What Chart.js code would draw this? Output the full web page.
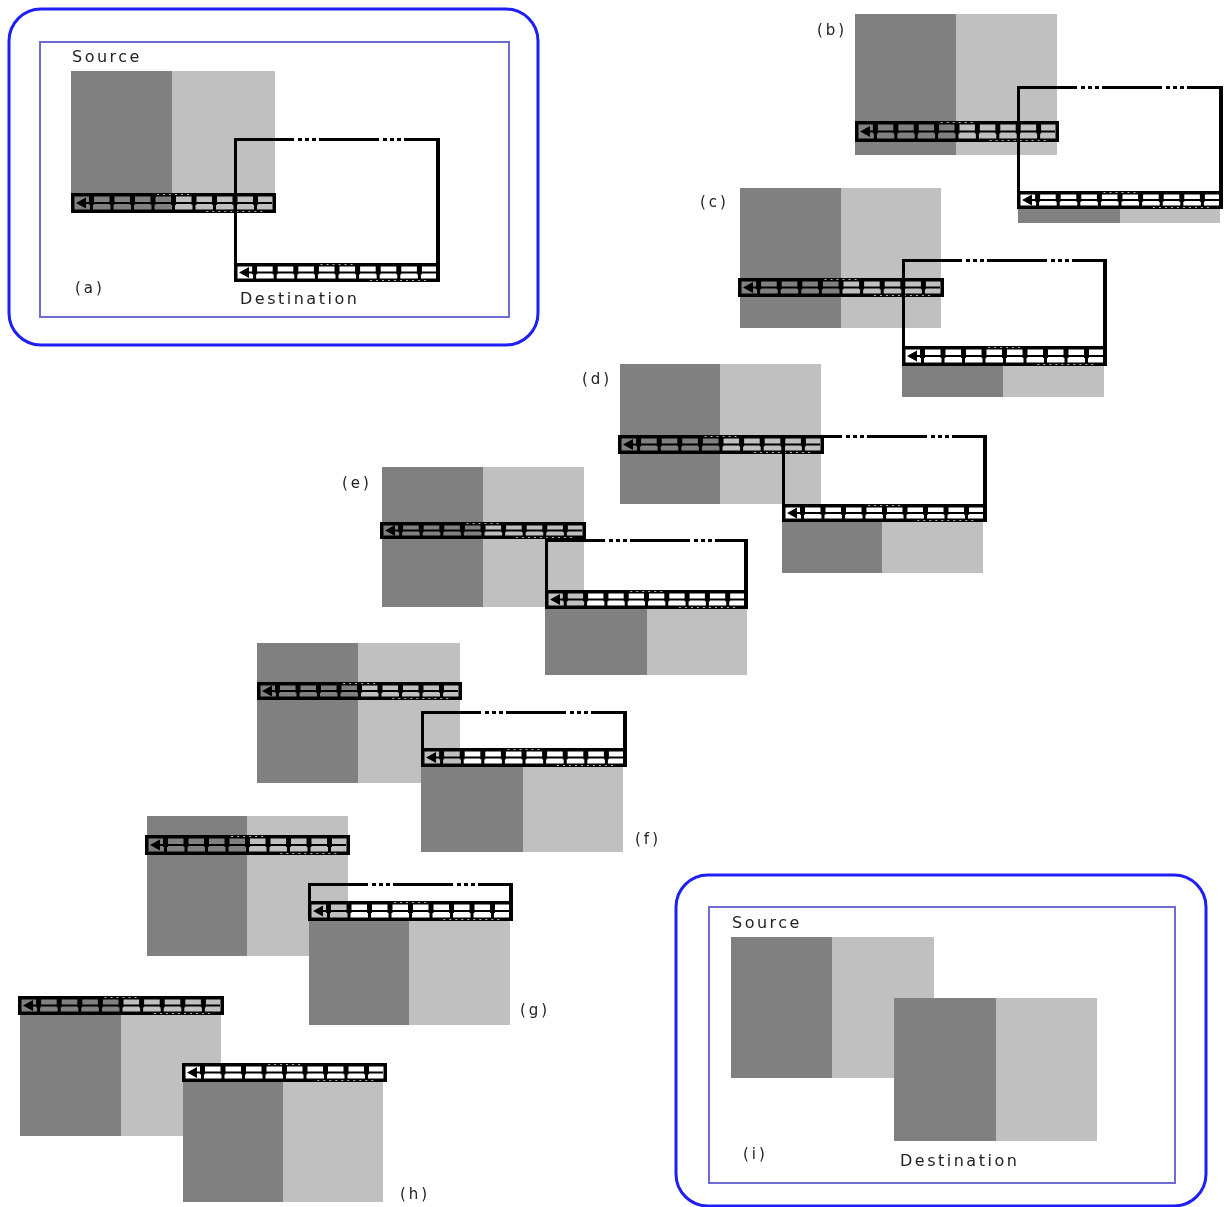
<!DOCTYPE html>
<html>
<head>
<meta charset="utf-8">
<script src="https://cdn.jsdelivr.net/npm/chart.js@4.4.1/dist/chart.umd.min.js"></script>
<style>
  html, body { margin: 0; padding: 0; background: #fff; }
  canvas { display: block; }
</style>
</head>
<body>
<canvas id="copyDiagram" width="1225" height="1207"></canvas>
<script>
// panels (a) .. (i), all values in diagram units (x 0..1225, y 0..1207 downwards)
const panelLabels = ["(a)", "(b)", "(c)", "(d)", "(e)", "(f)", "(g)", "(h)", "(i)"];
const labelX = [75, 817, 700, 582, 342, 635, 520, 400, 743];
const labelY = [289, 31, 203, 380, 484, 840, 1011, 1195, 1155];

// source block (dark half | light half)
const srcLeft   = [71, 855, 740, 620, 382, 257, 147, 20, 731];
const srcSplit  = [172, 956, 841, 720, 483, 358, 247, 121, 832];
const srcRight  = [275, 1057, 941, 821, 584, 460, 348, 221, 934];
const srcTop    = [71, 14, 188, 364, 467, 643, 816, 997, 937];
const srcBottom = [213, 155, 328, 504, 607, 783, 956, 1136, 1078];

// scan line strip over the source
const srcBarLeft   = [71, 855, 738, 618, 380, 257, 145, 18, null];
const srcBarRight  = [276, 1059, 944, 824, 586, 462, 350, 224, null];
const srcBarTop    = [193, 121, 278, 435, 522, 682, 835, 996, null];
const srcBarBottom = [213, 142, 297, 454, 539, 700, 855, 1015, null];

// destination window with its strip at the bottom
const winLeft      = [234, 1017, 902, 782, 545, 421, 308, 182, null];
const winRight     = [440, 1223, 1107, 987, 748, 627, 513, 387, null];
const winTop       = [138, 86, 259, 435, 539, 711, 883, 1063, null];
const winBarTop    = [263, 191, 346, 504, 590, 748, 901, 1063, null];
const winBarBottom = [282, 209, 366, 522, 609, 767, 921, 1082, null];

// copied part of the destination
const dstLeft   = [null, 1018, 902, 782, 545, 421, 309, 183, 894];
const dstSplit  = [null, 1120, 1003, 882, 647, 523, 409, 283, 996];
const dstRight  = [null, 1220, 1104, 983, 747, 623, 510, 383, 1097];
const dstTop    = [null, 209, 366, 522, 609, 767, 921, 1082, 998];
const dstBottom = [null, 223, 397, 573, 675, 852, 1025, 1202, 1141];

// boxed panels (a) and (i)
const frameLeft   = [9, 676];
const frameRight  = [538, 1206];
const frameTop    = [9, 875];
const frameBottom = [345, 1206];
const innerLeft   = [40, 709];
const innerRight  = [509, 1175];
const innerTop    = [42, 907];
const innerBottom = [317, 1183];
const captionText = ["Source", "Destination", "Source", "Destination"];
const captionX    = [72, 240, 732, 900];
const captionY    = [58, 300, 924, 1162];

const DARK = "#808080";
const LIGHT = "#c0c0c0";

function drawStrip(ctx, L, R, T, B, opaque) {
    let w = (R - L) / 10;
    let mid = (T + B) / 2;
    ctx.save();
    if (opaque) {
        ctx.fillStyle = "#fff";
        ctx.fillRect(L, T, R - L, B - T);
    }
    ctx.strokeStyle = "#000";
    ctx.fillStyle = "#000";
    // middle line
    ctx.lineWidth = 2;
    ctx.beginPath();
    ctx.moveTo(L + w * 0.7, mid);
    ctx.lineTo(R - 4, mid);
    ctx.stroke();
    // cell dividers
    for (let i = 1; i < 10; i++) {
        let x = L + i * w;
        ctx.fillRect(x - 2.5, T, 5, (B - T) * 0.6);
        ctx.fillRect(x - 1.5, T, 3, B - T);
    }
    // frame
    ctx.lineWidth = 3.5;
    ctx.strokeRect(L + 1.75, T + 1.75, R - L - 3.5, B - T - 3.5);
    // dotted breaks along the frame
    ctx.strokeStyle = "rgba(255,255,255,0.7)";
    ctx.lineWidth = 1;
    ctx.setLineDash([2, 4]);
    ctx.beginPath();
    ctx.moveTo(L + w * 4.2, T + 1.5);
    ctx.lineTo(L + w * 5.8, T + 1.5);
    ctx.moveTo(L + w * 6.6, B - 1.5);
    ctx.lineTo(L + w * 9.4, B - 1.5);
    ctx.stroke();
    ctx.setLineDash([]);
    // left arrow
    ctx.fillStyle = "#000";
    ctx.beginPath();
    ctx.moveTo(L + 5, mid);
    ctx.lineTo(L + 15, mid - 5.5);
    ctx.lineTo(L + 15, mid + 5.5);
    ctx.closePath();
    ctx.fill();
    ctx.restore();
}

const diagramPlugin = {
    id: "copyDiagram",
    afterDatasetsDraw(chart) {
        let ctx = chart.ctx;
        let xs = chart.scales.x;
        let ys = chart.scales.y;
        let px = v => xs.getPixelForValue(v);
        let py = v => ys.getPixelForValue(v);

        ctx.save();
        // frames
        for (let i = 0; i < frameLeft.length; i++) {
            ctx.strokeStyle = "#1e1ef5";
            ctx.lineWidth = 3;
            ctx.beginPath();
            ctx.roundRect(px(frameLeft[i]), py(frameTop[i]), px(frameRight[i]) - px(frameLeft[i]), py(frameBottom[i]) - py(frameTop[i]), 32);
            ctx.stroke();
            ctx.strokeStyle = "#6c6cd2";
            ctx.lineWidth = 2;
            ctx.strokeRect(px(innerLeft[i]), py(innerTop[i]), px(innerRight[i]) - px(innerLeft[i]), py(innerBottom[i]) - py(innerTop[i]));
        }

        for (let p = 0; p < panelLabels.length; p++) {
            // source block
            ctx.fillStyle = DARK;
            ctx.fillRect(px(srcLeft[p]), py(srcTop[p]), px(srcSplit[p]) - px(srcLeft[p]), py(srcBottom[p]) - py(srcTop[p]));
            ctx.fillStyle = LIGHT;
            ctx.fillRect(px(srcSplit[p]), py(srcTop[p]), px(srcRight[p]) - px(srcSplit[p]), py(srcBottom[p]) - py(srcTop[p]));

            // destination block
            if (dstLeft[p] !== null) {
                ctx.fillStyle = DARK;
                ctx.fillRect(px(dstLeft[p]), py(dstTop[p]), px(dstSplit[p]) - px(dstLeft[p]), py(dstBottom[p]) - py(dstTop[p]));
                ctx.fillStyle = LIGHT;
                ctx.fillRect(px(dstSplit[p]), py(dstTop[p]), px(dstRight[p]) - px(dstSplit[p]), py(dstBottom[p]) - py(dstTop[p]));
            }

            // source strip
            if (srcBarLeft[p] !== null) {
                drawStrip(ctx, px(srcBarLeft[p]), px(srcBarRight[p]), py(srcBarTop[p]), py(srcBarBottom[p]), false);
            }

            // destination window
            if (winLeft[p] !== null) {
                let L = px(winLeft[p]), R = px(winRight[p]);
                let T = py(winTop[p]), BT = py(winBarTop[p]), B = py(winBarBottom[p]);
                if (BT > T) {
                    ctx.strokeStyle = "#000";
                    ctx.lineWidth = 3;
                    ctx.setLineDash([60, 4, 4, 3, 4, 3, 4, 3]);
                    ctx.beginPath();
                    ctx.moveTo(L, T + 1.5);
                    ctx.lineTo(R, T + 1.5);
                    ctx.stroke();
                    ctx.setLineDash([]);
                    ctx.beginPath();
                    ctx.moveTo(L + 1.5, T);
                    ctx.lineTo(L + 1.5, BT);
                    ctx.stroke();
                    ctx.lineWidth = 4;
                    ctx.beginPath();
                    ctx.moveTo(R - 2, T);
                    ctx.lineTo(R - 2, B);
                    ctx.stroke();
                }
                // a bare strip (no window above) is drawn over what it covers
                drawStrip(ctx, L, R, BT, B, BT <= T);
            }

            // panel label
            ctx.fillStyle = "#222";
            ctx.font = "15px 'DejaVu Sans'";
            ctx.letterSpacing = "3px";
            ctx.textAlign = "left";
            ctx.textBaseline = "middle";
            ctx.fillText(panelLabels[p], px(labelX[p]), py(labelY[p]));
        }

        // captions
        ctx.fillStyle = "#222";
        ctx.font = "16px 'DejaVu Sans'";
        ctx.letterSpacing = "2.5px";
        for (let i = 0; i < captionText.length; i++) {
            ctx.fillText(captionText[i], px(captionX[i]), py(captionY[i]));
        }
        ctx.restore();
    }
};

let diagramContext = document.getElementById("copyDiagram").getContext("2d");
let diagramChart = new Chart(diagramContext, {
    type: "scatter",
    data: {
        datasets: [{
            label: "panels",
            data: panelLabels.map((l, i) => ({ x: labelX[i], y: labelY[i] })),
            pointRadius: 0,
            pointHoverRadius: 0
        }]
    },
    options: {
        responsive: false,
        animation: false,
        devicePixelRatio: 1,
        layout: { padding: 0 },
        plugins: {
            legend: { display: false },
            tooltip: { enabled: false }
        },
        scales: {
            x: { type: "linear", min: 0, max: 1225, display: false },
            y: { type: "linear", min: 0, max: 1207, reverse: true, display: false }
        }
    },
    plugins: [diagramPlugin]
});
</script>
</body>
</html>
